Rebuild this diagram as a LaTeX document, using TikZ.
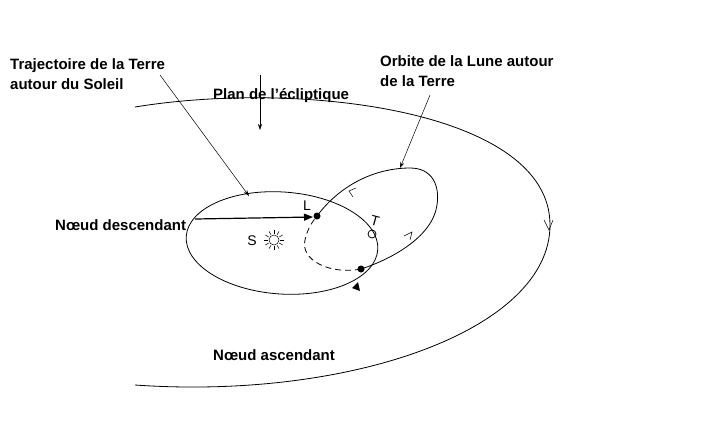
\documentclass[tikz,border=0pt]{standalone}
\usepackage{fontspec}
\setmainfont{Liberation Sans}
\usetikzlibrary{arrows.meta}
\begin{document}
\begin{tikzpicture}[x=1pt,y=-1pt,
  lbl/.style={font=\fontsize{15}{20}\selectfont\bfseries,align=left,inner sep=0pt},
  hand/.style={font=\fontsize{14}{16}\selectfont,inner sep=0pt},
  pen/.style={line width=0.8pt},
  thin/.style={line width=0.5pt},
  arr/.style={thin,-{Stealth[length=6pt,width=4pt]}},
  big/.style={line width=1.2pt,-{Triangle[length=9pt,width=7pt]}}]
\useasboundingbox (0,0) rectangle (707,440);
% big ecliptic ellipse (open at left)
\draw[pen] (135,107) .. controls (300,80) and (550,110) .. (550,225)
  .. controls (550,330) and (350,400) .. (135,385);
% Earth trajectory
\draw[pen,rotate around={-4:(282,243)}] (282,243) ellipse [x radius=96, y radius=51];
% nodes
\coordinate (L) at (317,216);
\coordinate (A) at (361,269);
% Moon orbit
\draw[pen] (L) .. controls (340,185) and (375,168) .. (410,168)
  .. controls (432,168) and (440,185) .. (437,205)
  .. controls (433,235) and (395,258) .. (A);
\draw[pen,dash pattern=on 6pt off 4pt] (A) .. controls (330,275) and (300,260) .. (305,240)
  .. controls (307,230) and (312,222) .. (L);
\fill (L) circle (3.5);
\fill (A) circle (3.5);
\draw[pen] (372,234) circle (4) coordinate (T);
\node[hand] (Lt) at (307,206) {L};
\node[hand,rotate=-15] (Tt) at (375,221) {T};
\node[hand] (St) at (252,241) {S};
\node (sun) at (274,240) {};
\draw[thin] (274,240) circle (5);
\foreach \a in {0,30,...,330} \draw[thin] (274,240) ++(\a:6) -- ++(\a:4);
\fill (352,288) -- (358,282) -- (360,291) -- cycle;
% small direction ticks
\draw[thin] (356,188) -- (349,191) -- (353,197);
\draw[thin] (404,236) -- (412,232) -- (410,240);
\draw[thin] (544,220) -- (549,230) -- (553,220);
% labels
\node[lbl,anchor=north west] (traj) at (10,58) {Trajectoire de la Terre\\autour du Soleil};
\node[lbl,anchor=north west] (plan) at (213,88) {Plan de l’écliptique};
\node[lbl,anchor=north west] (orb) at (380,55) {Orbite de la Lune autour\\de la Terre};
\node[lbl,anchor=west] (nd) at (55,225) {Nœud descendant};
\node[lbl,anchor=west] (na) at (213,355) {Nœud ascendant};
\coordinate (t1) at (160,75); \coordinate (t2) at (249,196);
\draw[arr] (t1) -- (t2);
\coordinate (o1) at (430,95); \coordinate (o2) at (400,168);
\draw[arr] (o1) -- (o2);
\coordinate (p1) at (260,75); \coordinate (p2) at (260,130);
\draw[arr] (p1) -- (p2);
\coordinate (n1) at (195,219);
\draw[big] (n1) -- (313,217);
\end{tikzpicture}
\end{document}
